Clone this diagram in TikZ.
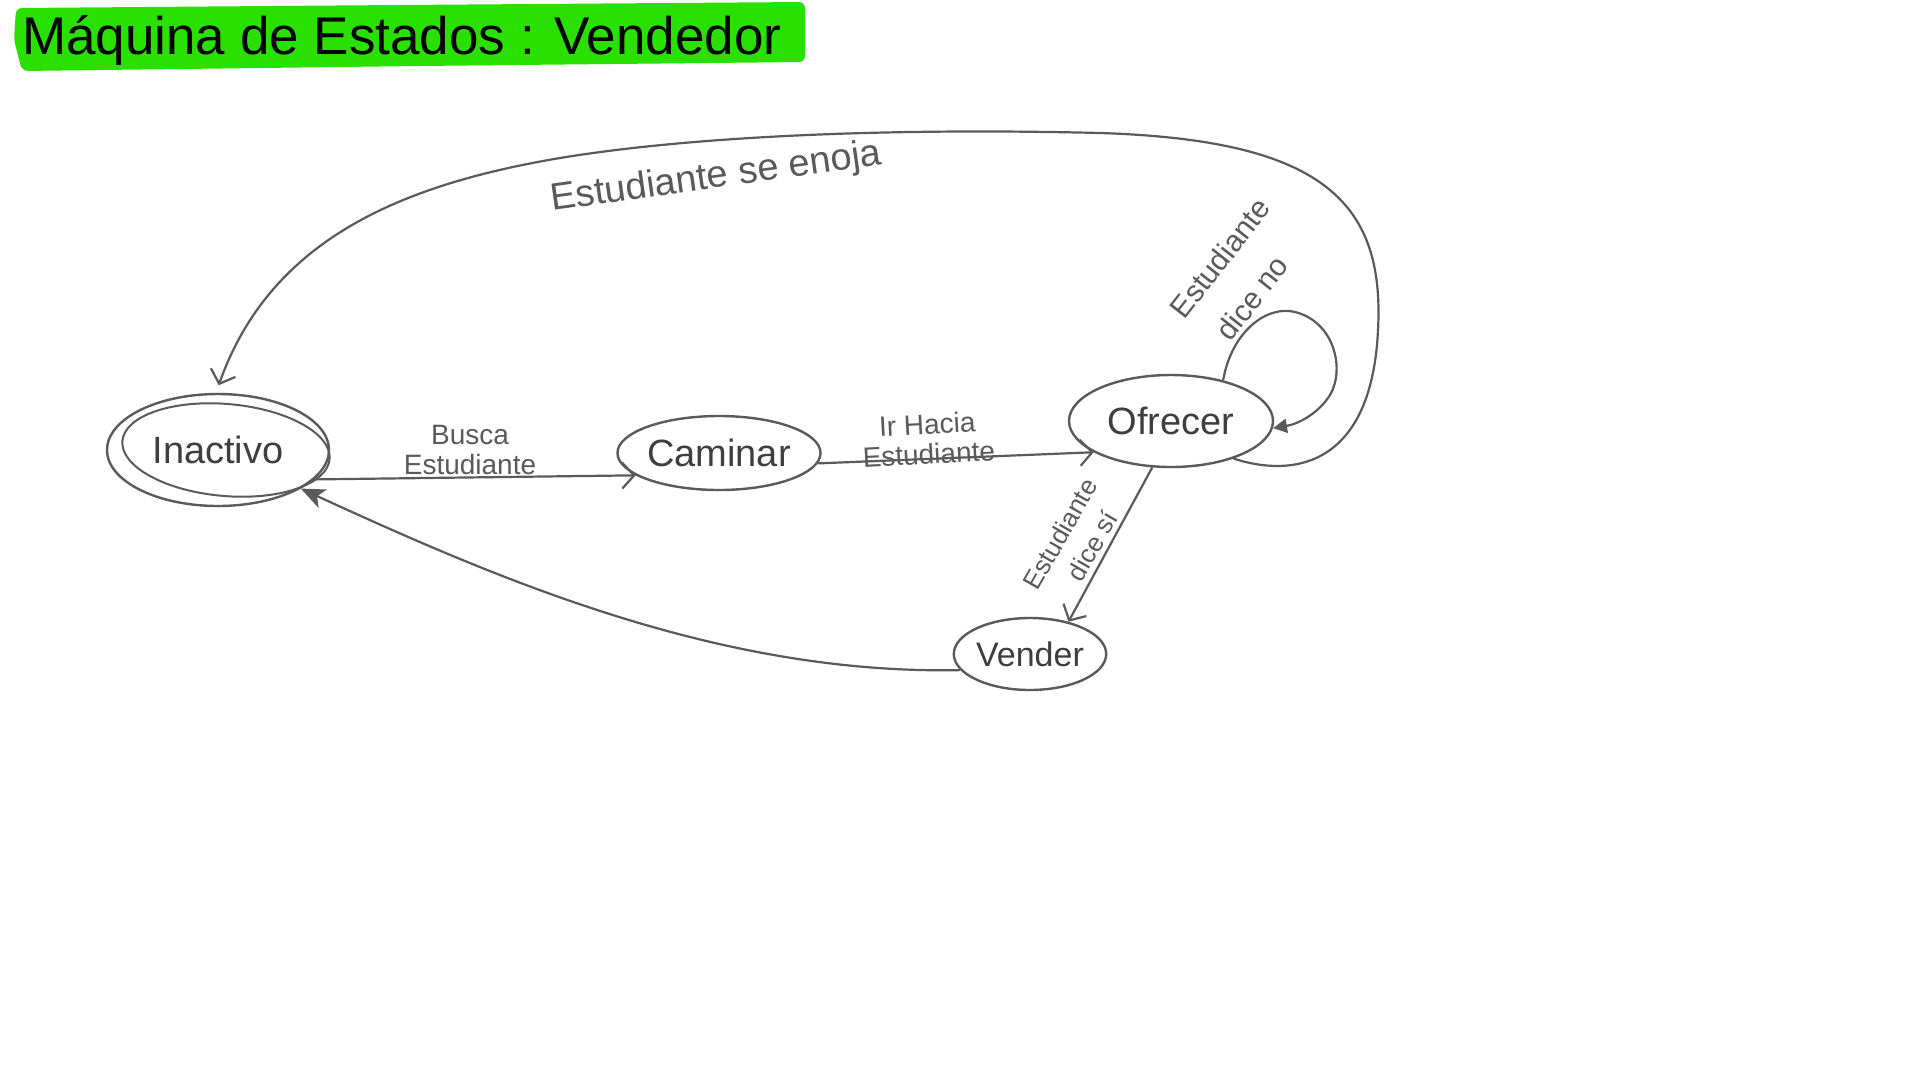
\documentclass[tikz,border=0pt]{standalone}
\usepackage{fontspec}
\setmainfont{Liberation Sans}
\usetikzlibrary{shapes.geometric,arrows.meta}
\definecolor{pen}{HTML}{5A5A5A}
\definecolor{ink}{HTML}{3E3E3E}
\definecolor{hl}{HTML}{2AE000}
\begin{document}
\begin{tikzpicture}[x=1pt,y=-1pt,
  state/.style={ellipse,draw=pen,line width=2.4pt,inner sep=0pt,text=ink},
  edge/.style={draw=pen,line width=2.2pt},
  openarrow/.style={-{Straight Barb[length=12pt,width=26pt,line width=2.2pt]}},
  heavyarrow/.style={-{Stealth[length=24pt,width=20pt,inset=6pt]}},
  triarrow/.style={-{Triangle[length=14pt,width=14pt]}},
  lbl/.style={text=pen,align=center,inner sep=0pt},
  statefont/.style={font=\fontsize{38}{42}\selectfont}]
\useasboundingbox (0,0) rectangle (1920,1080);
\fill[white] (0,0) rectangle (1920,1080);

% title band
\fill[hl, rounded corners=6pt] (16,8) -- (400,5) -- (805,2) -- (805,62) -- (420,66) -- (22,71) -- (14,40) -- cycle;
\node[anchor=west, font=\fontsize{53}{58}\selectfont, text=black, inner sep=0pt] (title) at (22,40) {Máquina de Estados : Vendedor};

% states
\node[state, statefont, minimum width=222pt, minimum height=112pt] (ina) at (218,450) {Inactivo};
\draw[pen, line width=2pt, rotate around={-5:(226,450)}] (226,450) ellipse [x radius=104, y radius=46];
\node[state, statefont, minimum width=158pt, minimum height=74pt] (cam) at (719,453) {Caminar};
\node[state, statefont, minimum width=204pt, minimum height=92pt] (ofr) at (1171,421) {Ofrecer};
\node[state, font=\fontsize{34}{38}\selectfont, minimum width=148pt, minimum height=72pt] (ven) at (1030,654) {Vender};

% edges
\draw[edge, openarrow] (ina.-17) -- (cam.195);
\draw[edge, openarrow] (cam.-6) -- (ofr.-158);
\draw[edge, openarrow] (ofr.-112) -- (ven.40);
\draw[edge, heavyarrow] (ven.193) .. controls (720,675) and (500,580) .. (ina.-25);
\draw[edge, triarrow] (ofr.38) .. controls (1232,330) and (1268,305) .. (1295,312)
      .. controls (1335,322) and (1345,370) .. (1330,395)
      .. controls (1318,414) and (1298,424) .. (ofr.-4);
\draw[edge, openarrow, shorten >=8pt] (ofr.-31) .. controls (1300,480) and (1372,460) .. (1378,330)
      .. controls (1385,200) and (1320,140) .. (1100,133)
      .. controls (900,128) and (700,135) .. (560,158)
      .. controls (400,185) and (270,240) .. (ina.92);

% labels
\node[lbl, font=\fontsize{28}{30}\selectfont] (l1) at (470,450) {Busca\\Estudiante};
\node[lbl, font=\fontsize{28}{30}\selectfont, rotate=3] (l2) at (928,439) {Ir Hacia\\Estudiante};
\node[lbl, font=\fontsize{26}{26}\selectfont, rotate=60] (l3a) at (1060,534) {Estudiante};
\node[lbl, font=\fontsize{26}{26}\selectfont, rotate=60] (l3b) at (1092,546) {dice sí};
\node[lbl, font=\fontsize{30}{30}\selectfont, rotate=52] (l4a) at (1220,258) {Estudiante};
\node[lbl, font=\fontsize{30}{30}\selectfont, rotate=52] (l4b) at (1252,298) {dice no};
\node[lbl, font=\fontsize{38}{42}\selectfont, rotate=8] (l5) at (716,178) {Estudiante se enoja};
\end{tikzpicture}
\end{document}
